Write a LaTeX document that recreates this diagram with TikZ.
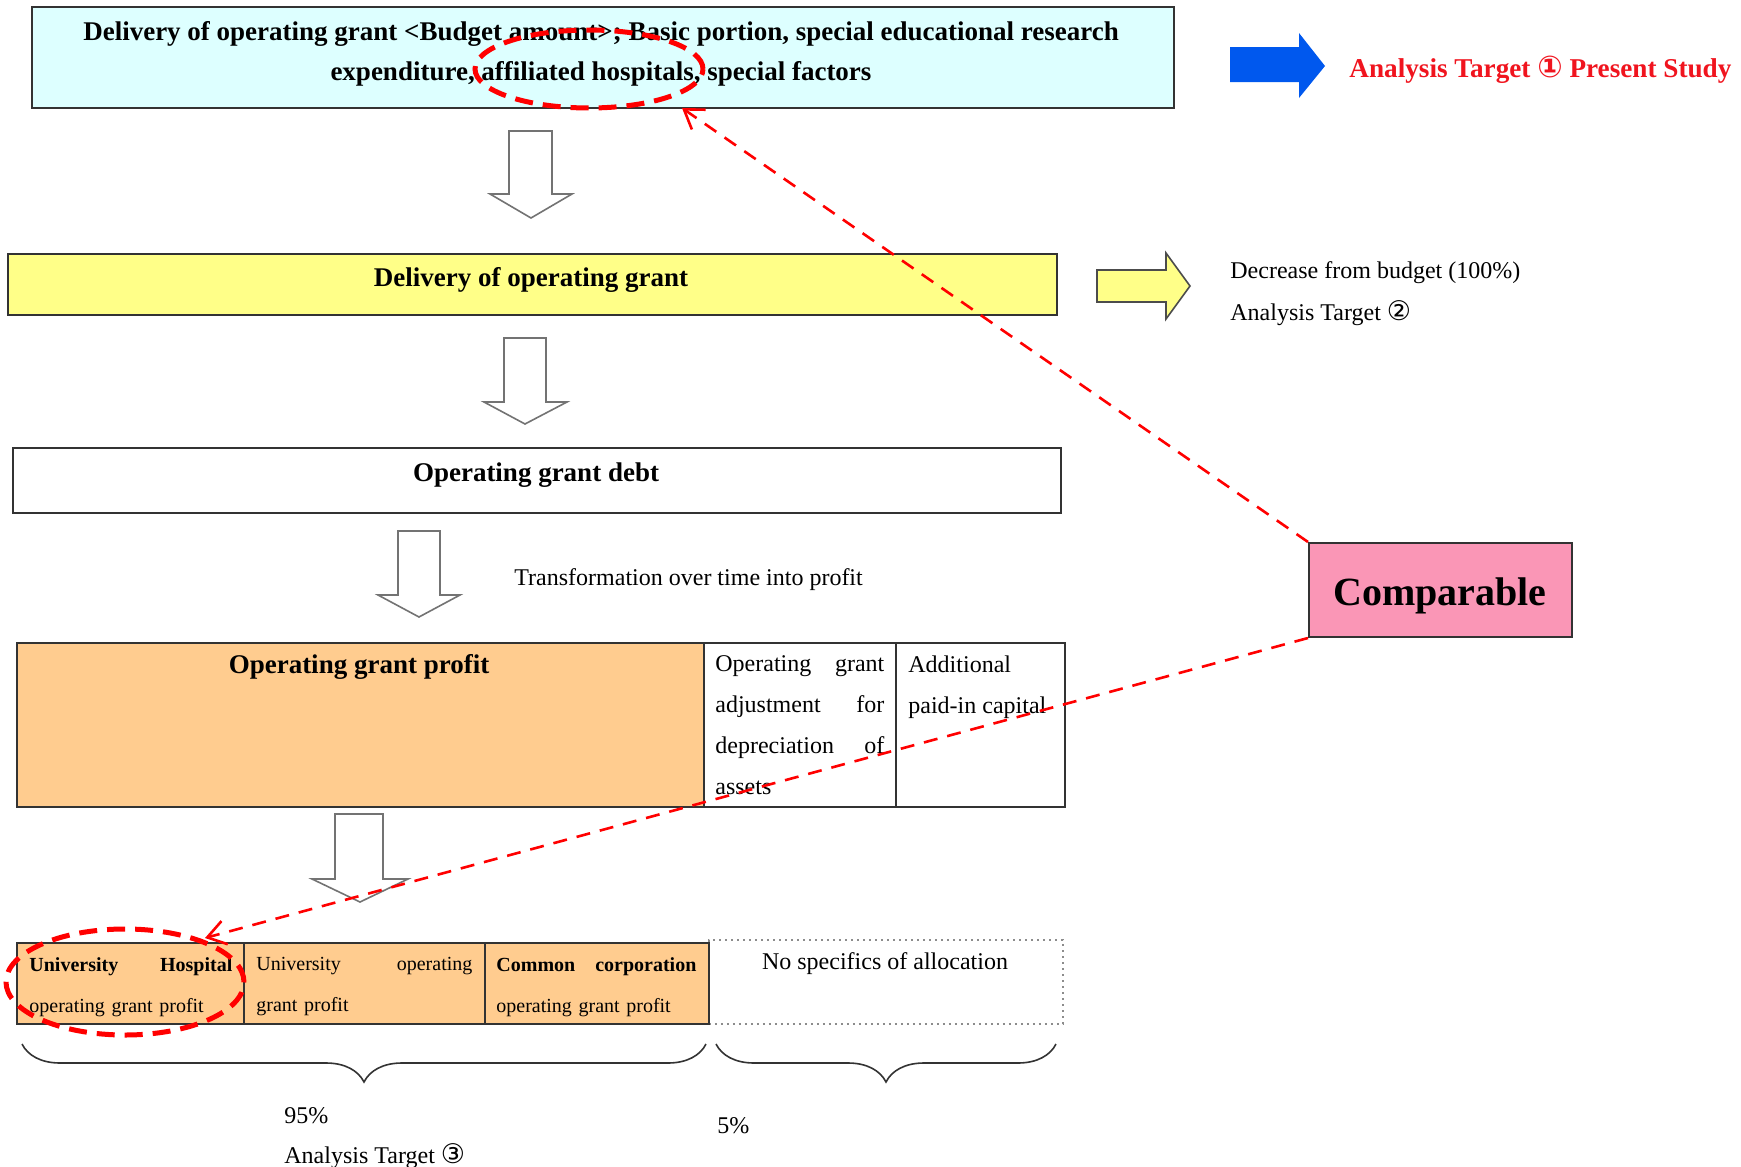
\documentclass[tikz,border=0pt]{standalone}
\usepackage{fontspec}
\setmainfont{Liberation Serif}
\newfontfamily\circfont{DejaVu Sans}
\usetikzlibrary{arrows.meta,decorations.pathreplacing,shapes.geometric}
\definecolor{cyanbox}{RGB}{221,255,255}
\definecolor{yellowbox}{RGB}{255,255,136}
\definecolor{orangebox}{RGB}{255,204,143}
\definecolor{pinkbox}{RGB}{250,150,182}
\definecolor{bluearrow}{RGB}{0,88,238}
\definecolor{redline}{RGB}{240,20,30}
\begin{document}
\begin{tikzpicture}[x=0.5pt,y=-0.5pt,
  box/.style={draw=black!80,line width=1pt,inner sep=0pt,anchor=north west},
  downarrow/.style={draw=black!55,line width=0.8pt,fill=white},
  head/.style={font=\fontsize{13.5}{20}\selectfont\bfseries},
  body/.style={font=\fontsize{12}{20.5}\selectfont},
  small/.style={font=\fontsize{10}{20.5}\selectfont},
  side/.style={anchor=west,inner sep=0pt},
  celltext/.style={anchor=north west,align=left,inner sep=0pt},
  redring/.style={ellipse,draw=red,line width=2.5pt,dash pattern=on 9pt off 5pt,inner sep=0pt},
  compare/.style={draw=red,line width=1.3pt,dash pattern=on 7pt off 5pt,-{Straight Barb[length=9pt,width=12pt]}},
  curly/.style={draw=black!80,line width=0.8pt,decorate,decoration={brace,mirror,amplitude=19pt}}]
\useasboundingbox (0,0) rectangle (1741,1167);

\node[box,fill=cyanbox,minimum width=571pt,minimum height=50.5pt] (top) at (31,6) {};
\node[head,align=center] (toptext) at (601,54) {Delivery of operating grant <Budget amount>; Basic portion, special educational research\\expenditure, affiliated hospitals, special factors};
\node[redring,minimum width=114pt,minimum height=39pt] (ringtop) at (589,69) {};

\fill[bluearrow] (1230,47) -- (1299,47) -- (1299,33) -- (1325,66) -- (1299,98) -- (1299,82) -- (1230,82) -- cycle;
\node[side,font=\fontsize{13.6}{20}\selectfont\bfseries,text=redline] (target1) at (1349,70) {Analysis Target {\circfont\fontsize{15}{20}\selectfont ①} Present Study};

\draw[downarrow] (509,131) -- (552,131) -- (552,194) -- (572,194) -- (531,218) -- (490,194) -- (509,194) -- cycle;

\node[box,fill=yellowbox,minimum width=524.5pt,minimum height=30.5pt] (grant) at (7,253) {};
\node[head] (granttext) at (531,280) {Delivery of operating grant};
\draw[fill=yellowbox,draw=black!70,line width=0.8pt] (1097,270) -- (1166,270) -- (1166,253) -- (1190,286) -- (1166,319) -- (1166,302) -- (1097,302) -- cycle;
\node[body,side] (decrease) at (1230,273) {Decrease from budget (100\%)};
\node[body,side] (target2) at (1230,313) {Analysis Target {\circfont\fontsize{13.5}{20}\selectfont ②}};

\draw[downarrow] (504,338) -- (546,338) -- (546,402) -- (567,402) -- (525,424) -- (484,402) -- (504,402) -- cycle;

\node[box,fill=white,minimum width=524pt,minimum height=32.5pt] (debt) at (12,447) {};
\node[head] (debttext) at (536,475) {Operating grant debt};

\draw[downarrow] (398,531) -- (440,531) -- (440,595) -- (460,595) -- (419,617) -- (378,595) -- (398,595) -- cycle;
\node[body,side] (transform) at (514,580) {Transformation over time into profit};

\node[box,fill=orangebox,minimum width=343.5pt,minimum height=82pt] (profit) at (16,642) {};
\node[box,minimum width=96pt,minimum height=82pt] (adjust) at (703,642) {};
\node[box,minimum width=84.5pt,minimum height=82pt] (paidin) at (895,642) {};
\node[head] (profittext) at (359,667) {Operating grant profit};
\node[body,celltext,text width=84.5pt] (adjusttext) at (715,655) {Operating\hfill grant\\adjustment\hfill for\\depreciation\hfill of\\assets};
\node[body,celltext] (paidintext) at (908,655) {Additional\\paid-in capital};

\draw[downarrow] (335,814) -- (383,814) -- (383,879) -- (408,879) -- (360,902) -- (312,879) -- (335,879) -- cycle;

\node[box,draw=black!45,dotted,line width=0.8pt,minimum width=177pt,minimum height=42pt] (nospec) at (708,939) {};
\node[box,fill=orangebox,minimum width=113.5pt,minimum height=40.5pt] (hosp) at (16,942) {};
\node[box,fill=orangebox,minimum width=120.5pt,minimum height=40.5pt] (univ) at (243,942) {};
\node[box,fill=orangebox,minimum width=112pt,minimum height=40.5pt] (common) at (484,942) {};
\node[small,celltext,text width=101.5pt] (hosptext) at (29,957) {\textbf{University\hfill Hospital}\\operating grant profit};
\node[small,celltext,text width=108pt] (univtext) at (256,957) {University\hfill operating\\grant profit};
\node[small,celltext,text width=100pt] (commontext) at (496,957) {\textbf{Common\hfill corporation}\\operating grant profit};
\node[body] (nospectext) at (885,964) {No specifics of allocation};
\node[redring,minimum width=119pt,minimum height=53pt] (ringhosp) at (125,982) {};

\draw[curly] (22,1044) -- (706,1044);
\draw[curly] (716,1044) -- (1056,1044);
\node[body,side] (pct95) at (284,1116) {95\%};
\node[body,side] (target3) at (284,1156) {Analysis Target {\circfont\fontsize{13.5}{20}\selectfont ③}};
\node[body,side] (pct5) at (717,1126) {5\%};

\node[box,fill=pinkbox,minimum width=131.5pt,minimum height=47pt] (cmp) at (1308,542) {};
\node[font=\fontsize{20}{24}\selectfont\bfseries] (cmptext) at (1440,596) {Comparable};
\coordinate (tiptop) at (682,108);
\coordinate (tiphosp) at (205,938);
\draw[compare] (cmp.north west) -- (tiptop);
\draw[compare] (cmp.south west) -- (tiphosp);
\end{tikzpicture}
\end{document}
